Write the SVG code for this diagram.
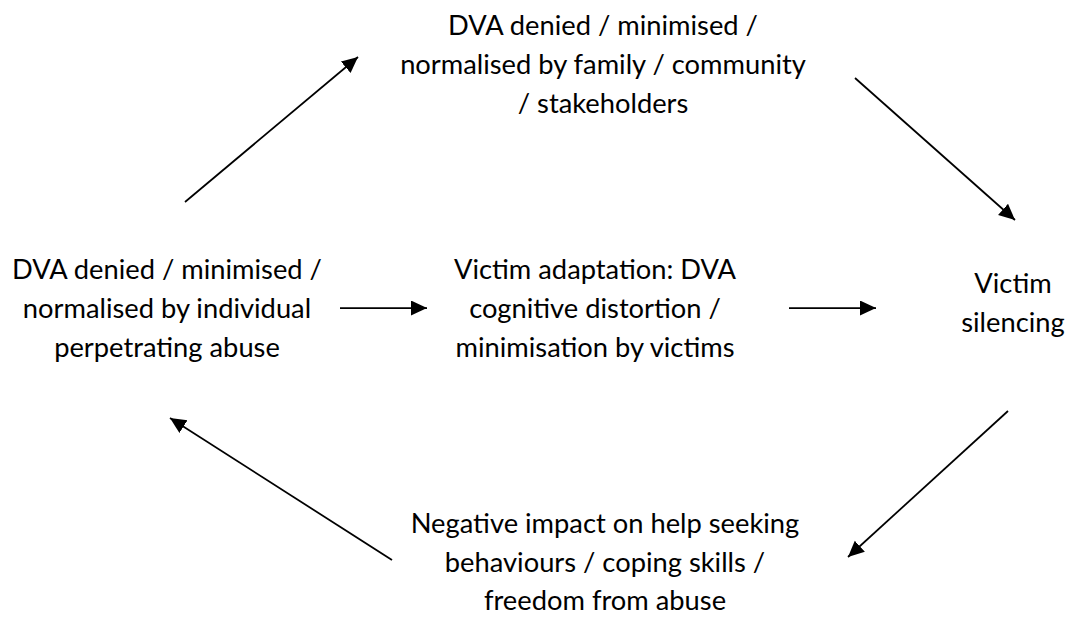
<svg xmlns="http://www.w3.org/2000/svg" width="1068" height="619" viewBox="0 0 1068 619">
  <defs>
    <style>
      .label { font-family: Lato, "Open Sans", "Liberation Sans", sans-serif; font-size: 27.3px; fill: #000; text-anchor: middle; }
      .arrow { stroke: #000; stroke-width: 1.75; fill: none; marker-end: url(#head); }
    </style>
    <marker id="head" markerUnits="userSpaceOnUse" markerWidth="17" markerHeight="16" refX="16" refY="7.5" orient="auto">
      <path d="M0,0 L16,7.5 L0,15 Z" fill="#000"/>
    </marker>
  </defs>
  <rect width="1068" height="619" fill="#fff"/>

  <g id="node-perpetrator">
    <text class="label" x="167" y="279">DVA denied / minimised /</text>
    <text class="label" x="167" y="318">normalised by individual</text>
    <text class="label" x="167" y="357">perpetrating abuse</text>
  </g>

  <g id="node-community">
    <text class="label" x="603" y="35">DVA denied / minimised /</text>
    <text class="label" x="603" y="74">normalised by family / community</text>
    <text class="label" x="603" y="113">/ stakeholders</text>
  </g>

  <g id="node-adaptation">
    <text class="label" x="595" y="279">Victim adaptation: DVA</text>
    <text class="label" x="595" y="318">cognitive distortion /</text>
    <text class="label" x="595" y="357">minimisation by victims</text>
  </g>

  <g id="node-silencing">
    <text class="label" x="1013" y="293">Victim</text>
    <text class="label" x="1013" y="332">silencing</text>
  </g>

  <g id="node-impact">
    <text class="label" x="605" y="533">Negative impact on help seeking</text>
    <text class="label" x="605" y="572">behaviours / coping skills /</text>
    <text class="label" x="605" y="610">freedom from abuse</text>
  </g>

  <g id="connectors">
    <line class="arrow" x1="185" y1="202" x2="358" y2="57"/>
    <line class="arrow" x1="855" y1="78" x2="1015" y2="220"/>
    <line class="arrow" x1="340" y1="308" x2="427" y2="308"/>
    <line class="arrow" x1="789" y1="308" x2="876" y2="308"/>
    <line class="arrow" x1="1008" y1="411" x2="848" y2="557"/>
    <line class="arrow" x1="392" y1="560" x2="170" y2="418"/>
  </g>
</svg>
